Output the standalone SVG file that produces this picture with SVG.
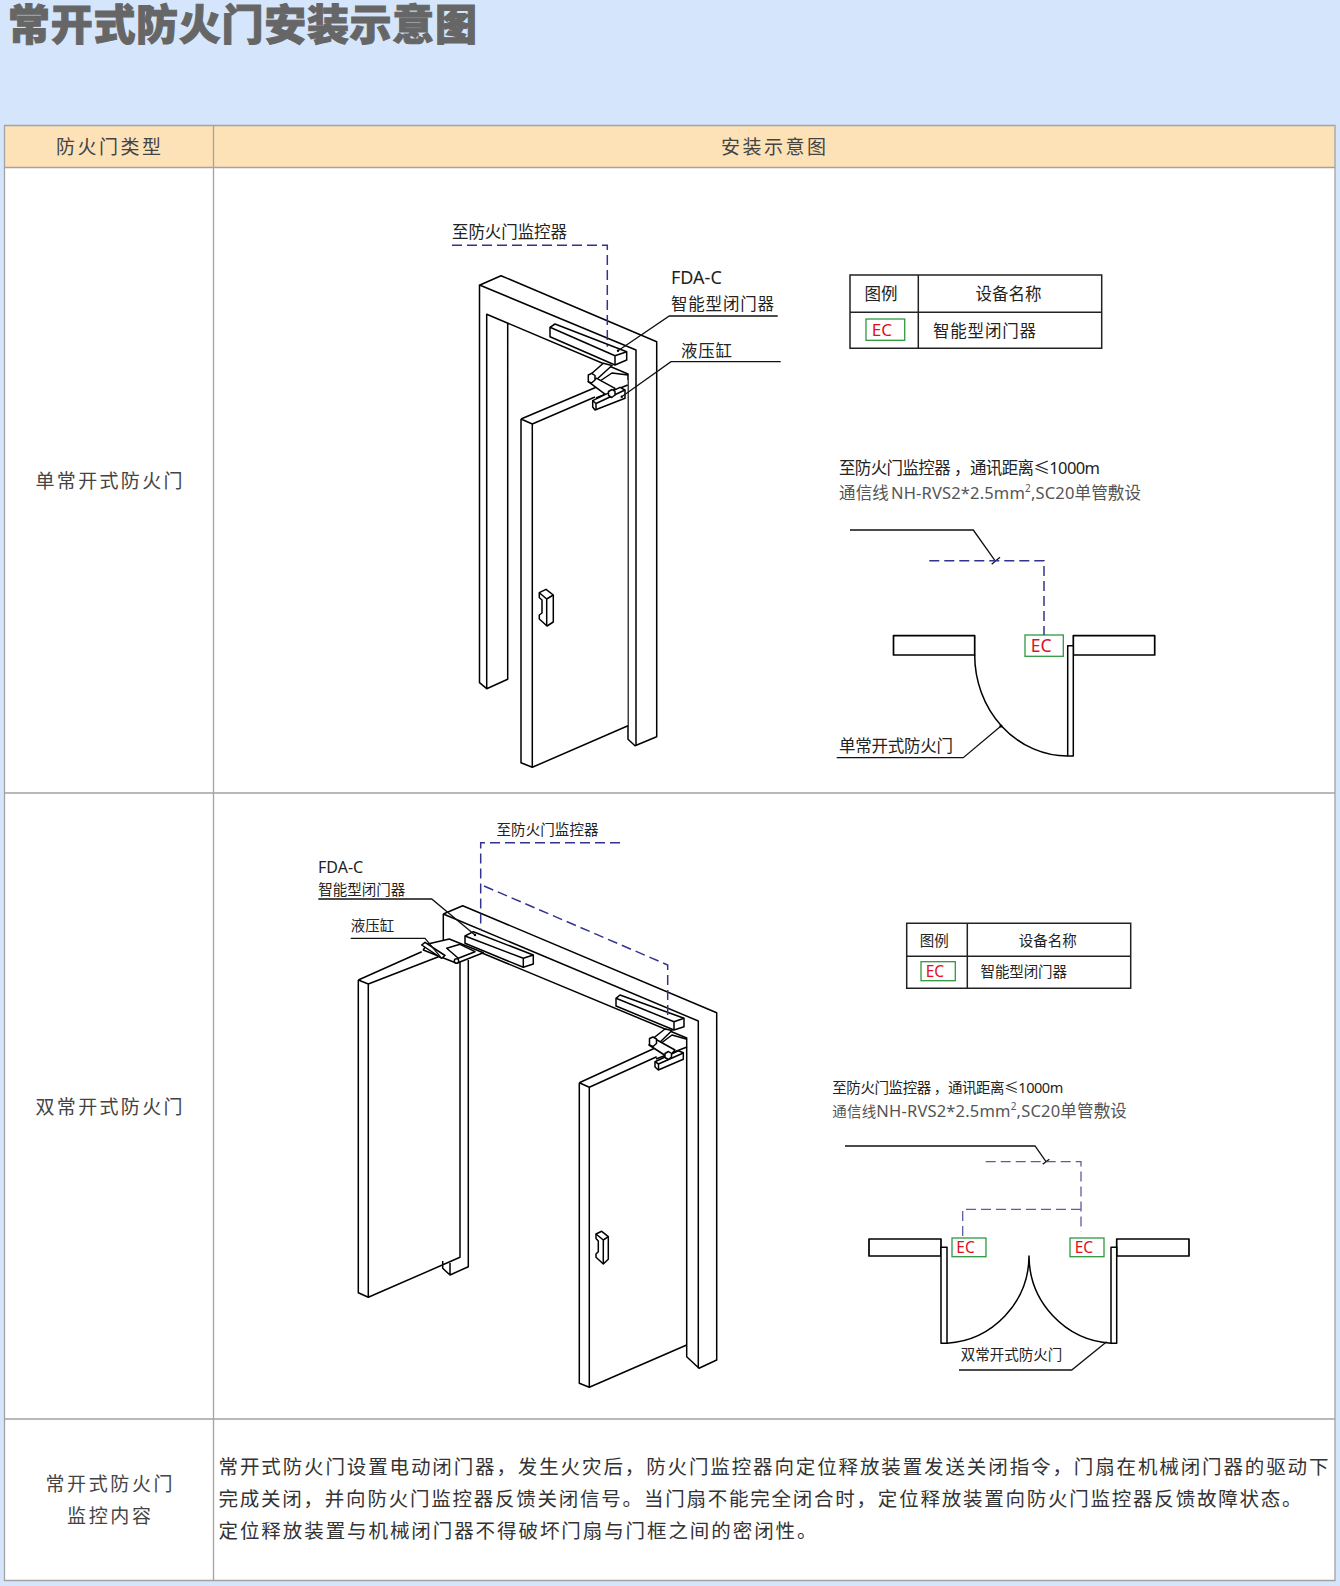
<svg xmlns="http://www.w3.org/2000/svg" width="1340" height="1586" viewBox="0 0 1340 1586">
<style>
text{font-family:"Noto Sans CJK SC","Noto Sans",sans-serif;fill:#222}
.en{font-family:"Noto Sans","Noto Sans CJK SC",sans-serif}
.cell{font-size:19px;fill:#444;text-anchor:middle}
.body{font-size:19.5px;fill:#333}
.lb{font-size:16.5px}.ls{font-size:14.5px}
.ec{fill:#e0101c;font-family:"Noto Sans",sans-serif}
.gray{fill:#555}
.l{fill:none;stroke:#000;stroke-width:1.5;stroke-linejoin:round}
.w{fill:#fff;stroke:#000;stroke-width:1.5;stroke-linejoin:round}
.t{fill:none;stroke:#222;stroke-width:1.5}
.lead{fill:none;stroke:#111;stroke-width:1.3}
.d{fill:none;stroke:#33338f;stroke-width:1.5;stroke-dasharray:10 5}
.ebox{fill:#fff;stroke:#2d9a3e;stroke-width:1.3}
.grid{fill:none;stroke:#a3a3a3;stroke-width:1.3}
</style>
<rect width="1340" height="1586" fill="#d5e6fc"/>
<text id="title" x="8" y="40" font-size="42" font-weight="900" style="fill:#666;stroke:#666;stroke-width:1" textLength="469">常开式防火门安装示意图</text>
<g id="table">
<rect x="4.5" y="125.5" width="1330.5" height="42" fill="#fde2b8"/>
<rect x="4.5" y="167.5" width="1330.5" height="1413" fill="#fff"/>
<path class="grid" d="M4.5,125.5H1335V1580.5H4.5ZM4.5,167.5H1335M4.5,793H1335M4.5,1419H1335M213.5,125.5V1580.5"/>
<text class="cell" x="108.5" y="154" textLength="105">防火门类型</text>
<text class="cell" x="773.5" y="154" textLength="105">安装示意图</text>
<text class="cell" x="109" y="488" textLength="147">单常开式防火门</text>
<text class="cell" x="109" y="1113.5" textLength="147">双常开式防火门</text>
<text class="cell" x="109" y="1491" textLength="127">常开式防火门</text>
<text class="cell" x="109" y="1523" textLength="84">监控内容</text>
<text class="body" x="218.5" y="1474" textLength="1110">常开式防火门设置电动闭门器，发生火灾后，防火门监控器向定位释放装置发送关闭指令，门扇在机械闭门器的驱动下</text>
<text class="body" x="218.5" y="1506" textLength="1083">完成关闭，并向防火门监控器反馈关闭信号。当门扇不能完全闭合时，定位释放装置向防火门监控器反馈故障状态。</text>
<text class="body" x="218.5" y="1538" textLength="598">定位释放装置与机械闭门器不得破坏门扇与门框之间的密闭性。</text>
</g>
<g id="single-frame">
<path class="l" d="M480,285L501,275.7L656.7,341.7V736.7L635,745.7L628,739.3V374L486.7,314.3V688.7L479.5,682.7V285L636,350V745.7M507.7,323.2V679.3L486.7,688.7"/>
</g>
<g id="single-door">
<path class="w" d="M521,419L596.7,387L627.5,380V725.7L532.3,767.3L521,762.7Z" style="stroke:none"/>
<path class="l" d="M521,419L596.7,387M532.3,424L595,397M521,419L532.3,424V767.3L521,762.7V419M532.3,767.3L628,725.7"/>
<path class="w" d="M539.3,592.7L546,589.3L553.3,595V622L547,626L539.3,619V615L542,613V600L539.3,597.5Z"/>
<path class="l" d="M539.3,592.7L546.7,599L553.3,595M546.7,599V626"/>
</g>
<g id="single-closer">
<path class="w" d="M550,327.3L555,324L626.7,351.7V360L615,365L550,336.7Z"/>
<path class="l" d="M550,327.3L615,355.7V365M615,355.7L626.7,351.7"/>
<path class="l" d="M600,381L612,373L628,375M596,398L627.7,385"/>
<path class="w" d="M603.3,363.3L612,365.5L596,380L590,375Z"/>
<path class="w" d="M596.7,378.3L615,388.3L608.3,396.7L588.3,381.7Z"/>
<path class="w" d="M588.3,375L591.7,373.3L595,375.5V380L591.5,383L588.3,381.7Z"/>
<path class="w" d="M592.7,400.7L620,387.3L625,390V398.3L595,410L592.7,407Z"/>
<path class="l" d="M592.7,400.7L596,403.5V409.5M596,403.5L625,390"/>
<path class="w" d="M608.5,391.5L612,389.5L615,391.5V395L611.7,397.5L608.5,395.5Z"/>
</g>
<g id="single-plan">
<path class="w" style="stroke-width:1.7" d="M893.5,635.7H974.7V655H893.5ZM1073.3,635.7H1154.7V655H1073.3Z"/>
<path class="w" d="M1067.7,645.7H1073.3V756H1067.7Z"/>
<path class="l" d="M974.7,655A93,101 0 0 0 1067.7,756"/>
</g>
<g id="single-labels">
<text class="lb" x="452" y="238" textLength="115">至防火门监控器</text>
<text class="en" x="671" y="284" font-size="18">FDA-C</text>
<text class="lb" x="671" y="310" textLength="103">智能型闭门器</text>
<text class="lb" x="681" y="356.7" textLength="51">液压缸</text>
<text class="lb" x="839" y="474" textLength="261">至防火门监控器<tspan dx="4">，</tspan>通讯距离<tspan class="en">≤1000m</tspan></text>
<text class="lb gray" x="839" y="499" textLength="302">通信线<tspan class="en" dx="2">NH-RVS2*2.5mm</tspan><tspan class="en" font-size="10" dy="-7">2</tspan><tspan class="en" dy="7">,SC20</tspan>单管敷设</text>
<text class="lb" x="839" y="751.7" textLength="114">单常开式防火门</text>
</g>
<g id="single-legend">
<path class="t" d="M850,275H1101.7V348.3H850ZM918.3,275V348.3M850,312.3H1101.7"/>
<text class="lb" x="881" y="300" text-anchor="middle">图例</text>
<text class="lb" x="1008.5" y="300" text-anchor="middle">设备名称</text>
<text class="lb" x="933" y="337" textLength="103">智能型闭门器</text>
<rect class="ebox" x="866" y="319" width="38.7" height="21.3"/>
<text class="ec" x="871.7" y="336" font-size="17">EC</text>
</g>
<g id="single-ec">
<rect class="ebox" x="1025" y="635" width="38.3" height="21.3"/>
<text class="ec" x="1030.7" y="652.3" font-size="17.5">EC</text>
</g>
<g id="double-frame">
<path class="l" d="M443.3,914L462.7,905.7L716.7,1012.7V1360L699,1368.3L686.7,1356.7V1038L470,948M443.3,914L698.3,1021V1368.3M443.3,914V940"/>
</g>
<g id="double-door-left">
<path class="l" d="M358.3,980L421.7,951.7M368.3,984L443,955M358.3,980L368.3,984V1297.3L358.3,1292.7V980M368.3,1297.3L460,1257.3V962M468.3,960V1266.7L450,1275L442.7,1268.3V1261M450,1275V1263"/>
</g>
<g id="double-closer-left">
<path class="w" d="M426.7,944.3L449.3,939L483.3,952.7L456.7,963.3L423.3,950Z"/>
<path class="l" d="M446.7,948.3L460,944.3L475,951.7L458.3,958.3Z"/>
<path class="w" d="M421.7,945L425,942.3L445,955.5L441.7,958.3Z"/>
<circle class="w" cx="456.5" cy="961" r="2.2"/>
<path class="w" d="M465,936L473.3,931.7L533.3,955V964L523.3,967.3L465,943.3Z"/>
<path class="l" d="M465,936L523.3,958.3V967.3M523.3,958.3L533.3,955"/>
</g>
<g id="double-door-right">
<path class="l" d="M579.3,1082.7L656.7,1047.3M589.3,1087.3L656.7,1056.7M579.3,1082.7L589.3,1087.3V1387.3L579.3,1383.3V1082.7M589.3,1387.3L686.7,1345"/>
<path class="w" d="M596,1234L601.7,1231.3L608.3,1236.7V1259.3L603.3,1264L596,1257.3V1254L598.3,1251.7V1241L596,1238.5Z"/>
<path class="l" d="M596,1234L603.3,1240L608.3,1236.7M603.3,1240V1264"/>
</g>
<g id="double-closer-right">
<path class="w" d="M616,998.3L620,995L684,1018.3V1026.7L674,1030L616,1006Z"/>
<path class="l" d="M616,998.3L674,1021.7V1030M674,1021.7L684,1018.3"/>
<path class="l" d="M660,1044L672,1035L687,1039.3M656,1059L687,1047"/>
<path class="w" d="M665,1029L672,1030.5L657,1045L651,1040Z"/>
<path class="w" d="M657,1040L675,1050L668.3,1057.5L649,1045Z"/>
<path class="w" d="M649.5,1038.5L653,1037L656.5,1039V1043.5L653,1046.5L649.5,1045Z"/>
<path class="w" d="M655,1061.7L678.3,1050.7L683.3,1052.7V1059.3L658.3,1070L655,1067Z"/>
<path class="l" d="M655,1061.7L658.5,1064V1069.5M658.5,1064L683.3,1053"/>
<path class="w" d="M665,1053.5L668.5,1051.5L671.5,1053.5V1057L668.3,1059.5L665,1057.5Z"/>
</g>
<g id="double-plan">
<path class="w" style="stroke-width:1.7" d="M869,1239H941V1256H869ZM1116.7,1239H1189V1256H1116.7Z"/>
<path class="w" d="M941,1247.3H947V1343.3H941ZM1111,1247.3H1116.7V1343.3H1111Z"/>
<path class="l" d="M947,1343.3A88,88 0 0 0 1029,1256A88,88 0 0 0 1111,1343.3"/>
</g>
<g id="double-labels">
<text class="ls" x="496.5" y="834.5" textLength="102">至防火门监控器</text>
<text class="en" x="318" y="873.3" font-size="16">FDA-C</text>
<text class="ls" x="318.3" y="894.5" textLength="87">智能型闭门器</text>
<text class="ls" x="350.7" y="930.5" textLength="43.5">液压缸</text>
<text class="ls" x="832.3" y="1093.3" textLength="231">至防火门监控器<tspan dx="3">，</tspan>通讯距离<tspan class="en">≤1000m</tspan></text>
<text class="ls gray" x="832.3" y="1116.7" textLength="294.5">通信线<tspan class="en" font-size="16.5">NH-RVS2*2.5mm</tspan><tspan class="en" font-size="10" dy="-7">2</tspan><tspan class="en" font-size="16.5" dy="7">,SC20</tspan><tspan font-size="16.5">单管敷设</tspan></text>
<text class="ls" x="960.7" y="1360" textLength="101.5">双常开式防火门</text>
</g>
<g id="double-legend">
<path class="t" d="M906.7,923.3H1130.7V988.3H906.7ZM967.3,923.3V988.3M906.7,956.3H1130.7"/>
<text class="ls" x="934.3" y="945.5" text-anchor="middle">图例</text>
<text class="ls" x="1047.7" y="945.5" text-anchor="middle">设备名称</text>
<text class="ls" x="980.5" y="977" textLength="86.5">智能型闭门器</text>
<rect class="ebox" x="921" y="961.7" width="34.3" height="19"/>
<text class="ec" x="925.7" y="976.5" font-size="15.5">EC</text>
</g>
<g id="double-ec-left">
<rect class="ebox" x="952" y="1238" width="34" height="18.7"/>
<text class="ec" x="956.3" y="1253.3" font-size="15.5">EC</text>
</g>
<g id="double-ec-right">
<rect class="ebox" x="1070" y="1238" width="34" height="18.7"/>
<text class="ec" x="1074.7" y="1253.3" font-size="15.5">EC</text>
</g>
<g id="connectors">
<path class="d" d="M452,245.3H607.3V346.7"/>
<path class="lead" d="M618,350.7L669.3,316H777.7M621.7,396.7L671,361.7H780.7"/>
<circle cx="618" cy="350.7" r="1.2"/><circle cx="621.7" cy="396.7" r="1.2"/>
<path class="lead" d="M850,530H973.3L995,560.7M991.7,564.3L1000,557.3"/>
<path class="d" d="M929.3,560.7H1044V635"/>
<path class="lead" d="M836.7,757.7H963.3L1001,726"/>
<circle cx="1001" cy="726" r="1.6"/>
<path class="d" d="M620,842.7H480.7V930M484,886L667.7,965V1020"/>
<path class="lead" d="M318.3,899H431.7L475,935M350.7,938.3H425L441.7,958.3"/>
<circle cx="475" cy="935" r="1.2"/>
<path class="lead" d="M845,1146H1035L1046,1161.7M1042.7,1164.3L1049.3,1159.3"/>
<path class="d" style="stroke-width:1.3;opacity:.8" d="M985.7,1161.7H1081V1231.7M1081,1209.3H962.7V1237.3"/>
<path class="lead" d="M959,1370H1071.7L1106.7,1341.7"/>
</g>
</svg>
